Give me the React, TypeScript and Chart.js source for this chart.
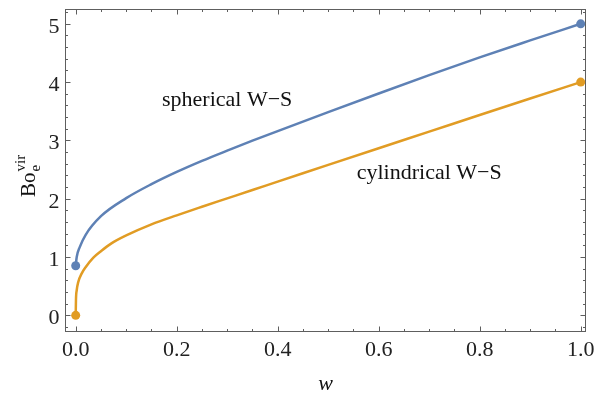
import React, { useEffect, useRef } from "react";
import { Chart, registerables } from "chart.js";

Chart.register(...registerables);

// ---- data ----
const wSpherical = [0, 0.002, 0.008, 0.02, 0.05, 0.1, 0.15, 0.2, 0.25, 0.3, 0.35, 0.4, 0.5, 0.6, 0.7, 0.8, 0.9, 1.0];
const boSpherical = [0.85, 1.0, 1.17, 1.385, 1.7, 2.01, 2.25, 2.46, 2.65, 2.825, 2.995, 3.16, 3.485, 3.805, 4.12, 4.425, 4.715, 5.0];

const wCylindrical = [0, 0.0005, 0.002, 0.005, 0.012, 0.02, 0.035, 0.05, 0.07, 0.1, 0.15, 0.2, 0.25, 0.3, 0.35, 0.4, 0.5, 0.6, 0.7, 0.8, 0.9, 1.0];
const boCylindrical = [0, 0.26, 0.43, 0.57, 0.72, 0.83, 0.99, 1.1, 1.23, 1.37, 1.56, 1.715, 1.862, 2.006, 2.15, 2.293, 2.58, 2.866, 3.15, 3.435, 3.718, 4.0];

const xTickLabels = ["0.0", "0.2", "0.4", "0.6", "0.8", "1.0"];
const yTickLabels = ["0", "1", "2", "3", "4", "5"];
const seriesNames = ["spherical W\u2212S", "cylindrical W\u2212S"];
const seriesLabelAt = [
  [0.3, 3.69],
  [0.7, 2.43],
];

const SERIF = "'Liberation Serif', 'Times New Roman', serif";
const BLUE = "rgb(94,129,181)";
const ORANGE = "rgb(225,156,36)";

const framePlugin = {
  id: "mmaFrame",
  beforeDatasetsDraw(chart: any) {
    const { ctx, chartArea: a, scales } = chart;
    const x = scales.x;
    const y = scales.y;
    ctx.save();
    ctx.strokeStyle = "#5e5e5e";
    ctx.lineWidth = 1;
    ctx.strokeRect(a.left + 0.5, a.top + 0.5, a.right - a.left - 1, a.bottom - a.top - 1);
    ctx.beginPath();
    for (let i = 0; i <= 20; i++) {
      const px = Math.round(x.getPixelForValue(i * 0.05)) + 0.5;
      const len = i % 4 === 0 ? 5.5 : 3;
      ctx.moveTo(px, a.bottom);
      ctx.lineTo(px, a.bottom - len);
      ctx.moveTo(px, a.top);
      ctx.lineTo(px, a.top + len);
    }
    for (let i = -1; i <= 26; i++) {
      const py = Math.round(y.getPixelForValue(i * 0.2)) + 0.5;
      if (py < a.top || py > a.bottom) continue;
      const len = i % 5 === 0 ? 5.5 : 3;
      ctx.moveTo(a.left, py);
      ctx.lineTo(a.left + len, py);
      ctx.moveTo(a.right, py);
      ctx.lineTo(a.right - len, py);
    }
    ctx.stroke();
    ctx.restore();
  },
  afterDraw(chart: any) {
    const { ctx, chartArea: a, scales } = chart;
    const x = scales.x;
    const y = scales.y;
    ctx.save();
    ctx.fillStyle = "#222";
    ctx.font = `22px ${SERIF}`;
    ctx.textBaseline = "alphabetic";
    ctx.textAlign = "center";
    xTickLabels.forEach((t) => {
      ctx.fillText(t, x.getPixelForValue(parseFloat(t)), 356);
    });
    ctx.textAlign = "right";
    yTickLabels.forEach((t) => {
      ctx.fillText(t, a.left - 5.5, y.getPixelForValue(parseFloat(t)) + 9);
    });

    // x title
    ctx.fillStyle = "#111";
    ctx.textAlign = "center";
    ctx.font = `italic 22px ${SERIF}`;
    ctx.fillText("w", (a.left + a.right) / 2, 390);

    // y title: Bo_e^vir rotated
    ctx.save();
    ctx.translate(35, 197);
    ctx.rotate(-Math.PI / 2);
    ctx.textAlign = "left";
    ctx.font = `21px ${SERIF}`;
    ctx.fillText("Bo", 0, 0);
    const w1 = ctx.measureText("Bo").width;
    ctx.font = `15px ${SERIF}`;
    ctx.fillText("e", w1 + 1, 5);
    ctx.fillText("vir", w1 + 1, -10);
    ctx.restore();

    // series annotations
    ctx.font = `22px ${SERIF}`;
    ctx.textAlign = "center";
    ctx.textBaseline = "middle";
    ctx.fillStyle = "#111";
    seriesNames.forEach((n, i) => {
      const [dx, dy] = seriesLabelAt[i];
      ctx.fillText(n, x.getPixelForValue(dx), y.getPixelForValue(dy));
    });
    ctx.restore();
  },
};

function endRadius(ctx: any) {
  const n = ctx.dataset.data.length;
  return ctx.dataIndex === 0 || ctx.dataIndex === n - 1 ? 4.5 : 0;
}

export default function App() {
  const ref = useRef<HTMLCanvasElement | null>(null);
  useEffect(() => {
    if (!ref.current) return;
    const chart = new Chart(ref.current, {
      type: "line",
      data: {
        datasets: [
          {
            label: seriesNames[0],
            data: wSpherical.map((w, i) => ({ x: w, y: boSpherical[i] })),
            borderColor: BLUE,
            backgroundColor: BLUE,
            borderWidth: 2.5,
            cubicInterpolationMode: "monotone",
            pointRadius: endRadius,
            pointBorderWidth: 0,
            fill: false,
          },
          {
            label: seriesNames[1],
            data: wCylindrical.map((w, i) => ({ x: w, y: boCylindrical[i] })),
            borderColor: ORANGE,
            backgroundColor: ORANGE,
            borderWidth: 2.5,
            cubicInterpolationMode: "monotone",
            pointRadius: endRadius,
            pointBorderWidth: 0,
            fill: false,
          },
        ],
      },
      options: {
        responsive: false,
        animation: false,
        layout: { padding: { left: 65, right: 11, top: 9, bottom: 66 } },
        plugins: { legend: { display: false }, tooltip: { enabled: false } },
        scales: {
          x: { type: "linear", min: -0.0212, max: 1.0105, display: false },
          y: { type: "linear", min: -0.286, max: 5.254, display: false },
        },
      },
      plugins: [framePlugin],
    } as any);
    return () => chart.destroy();
  }, []);
  return (
    <div style={{ position: "fixed", left: 0, top: 0, width: 597, height: 398, background: "#fff" }}>
      <canvas ref={ref} width={597} height={398} style={{ display: "block" }} />
    </div>
  );
}
